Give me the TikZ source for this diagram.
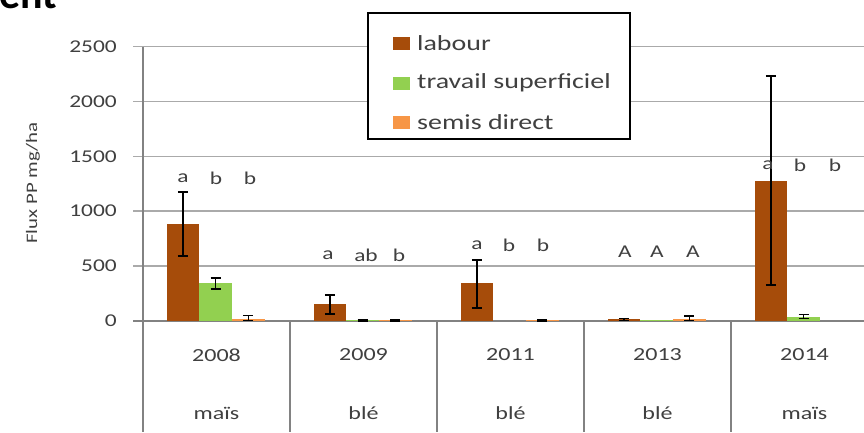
\documentclass[tikz,border=0pt]{standalone}
\usepackage{fontspec}
\setmainfont{Carlito}[FakeStretch=1.3]
\newfontfamily\headfont{Carlito}
\definecolor{labc}{RGB}{166,76,10}
\definecolor{trac}{RGB}{146,208,80}
\definecolor{semc}{RGB}{247,150,70}
\definecolor{gridc}{RGB}{170,170,170}
\definecolor{axisc}{RGB}{130,130,130}
\definecolor{txtc}{RGB}{64,64,64}
\newcommand\drawbarbox[3]{\fill[#3] (#1,321) rectangle ({#1+32.7},{321-0.1098*#2});}
\newcommand\drawerr[3]{%
  \draw[errbar] (#1,{321-0.1098*#2}) -- (#1,{321-0.1098*#3});
  \draw[errbar] ({#1-5},{321-0.1098*#2}) -- ({#1+5},{321-0.1098*#2});
  \draw[errbar] ({#1-5},{321-0.1098*#3}) -- ({#1+5},{321-0.1098*#3});}
\begin{document}
\begin{tikzpicture}[x=1pt,y=-1pt,
  gridline/.style={draw=gridc, line width=1.5pt},
  axisline/.style={draw=axisc, line width=1.5pt},
  errbar/.style={draw=black, line width=1.5pt},
  ticklab/.style={text=txtc, font=\fontsize{18}{18}\selectfont, inner sep=0pt},
  catlab/.style={text=txtc, font=\fontsize{18.5}{18.5}\selectfont, inner sep=0pt},
  siglab/.style={text=txtc, font=\fontsize{18}{18}\selectfont, inner sep=0pt},
  leglab/.style={text=txtc, font=\fontsize{21.5}{21.5}\selectfont, inner sep=0pt, anchor=west}]
\useasboundingbox (0,0) rectangle (864,432);
\fill[white] (0,0) rectangle (864,432);
% title fragment
\node[anchor=base west, inner sep=0pt, font=\headfont\bfseries\fontsize{42}{42}\selectfont] (title) at (-1,8) {ent};
% grid and ticks
\foreach \v in {500,1000,1500,2000,2500} {
  \draw[gridline] (133,{321-0.1098*\v}) -- (864,{321-0.1098*\v});
  \node[ticklab, anchor=east] (t\v) at (117,{321-0.1098*\v}) {\v};
}
\draw[axisline] (133,321) -- (864,321);
\node[ticklab, anchor=east] (t0) at (117,321) {0};
\draw[axisline] (143,46.5) -- (143,432);
\foreach \k in {1,2,3,4} {
  \draw[axisline] ({143+147*\k},321) -- ({143+147*\k},432);
}
% y title
\node[rotate=90, text=txtc, font=\fontsize{16}{16}\selectfont, inner sep=0pt] (ytitle) at (33,183) {Flux PP mg/ha};
% bars 2008
\drawbarbox{166.5}{883}{labc}
\drawbarbox{199.2}{346}{trac}
\drawbarbox{231.9}{20}{semc}
\drawerr{182.85}{592}{1175}
\drawerr{215.55}{290}{390}
\drawerr{248.25}{5}{50}
% 2009
\drawbarbox{313.5}{155}{labc}
\drawbarbox{346.2}{5}{trac}
\drawbarbox{378.9}{5}{semc}
\drawerr{329.85}{64}{237}
\drawerr{362.55}{0}{10}
\drawerr{395.25}{0}{10}
% 2011
\drawbarbox{460.5}{346}{labc}
\drawbarbox{525.9}{5}{semc}
\drawerr{476.85}{118}{555}
\drawerr{542.25}{0}{10}
% 2013
\drawbarbox{607.5}{15}{labc}
\drawbarbox{640.2}{5}{trac}
\drawbarbox{672.9}{20}{semc}
\drawerr{623.85}{5}{25}
\drawerr{689.25}{5}{45}
% 2014
\drawbarbox{754.5}{1275}{labc}
\drawbarbox{787.2}{40}{trac}
\drawerr{770.85}{328}{2231}
\drawerr{803.55}{25}{60}
% significance letters
\node[siglab] (s1a) at (183,178) {a};
\node[siglab] (s1b) at (216,178) {b};
\node[siglab] (s1c) at (250,178) {b};
\node[siglab] (s2a) at (328,255) {a};
\node[siglab] (s2b) at (366,255) {ab};
\node[siglab] (s2c) at (399,255) {b};
\node[siglab] (s3a) at (477,245) {a};
\node[siglab] (s3b) at (509,245) {b};
\node[siglab] (s3c) at (543,245) {b};
\node[siglab] (s4a) at (625,252) {A};
\node[siglab] (s4b) at (657,252) {A};
\node[siglab] (s4c) at (693,252) {A};
\node[siglab] (s5a) at (768,165) {a};
\node[siglab] (s5b) at (800,165) {b};
\node[siglab] (s5c) at (835,165) {b};
% category labels
\foreach \k/\yr/\cr in {0/2008/maïs,1/2009/blé,2/2011/blé,3/2013/blé,4/2014/maïs} {
  \node[catlab] (y\k) at ({216.5+147*\k},355) {\yr};
  \node[catlab] (c\k) at ({216.5+147*\k},413) {\cr};
}
% legend
\draw[fill=white, draw=black, line width=2.5pt] (368,13) rectangle (630,139);
\fill[labc] (393,36.5) rectangle (410,49.5);
\fill[trac] (393,76.5) rectangle (410,89.5);
\fill[semc] (393,115.5) rectangle (410,128.5);
\node[leglab] (l1) at (417,43) {labour};
\node[leglab] (l2) at (417,83) {travail superficiel};
\node[leglab] (l3) at (417,122) {semis direct};
\end{tikzpicture}
\end{document}
